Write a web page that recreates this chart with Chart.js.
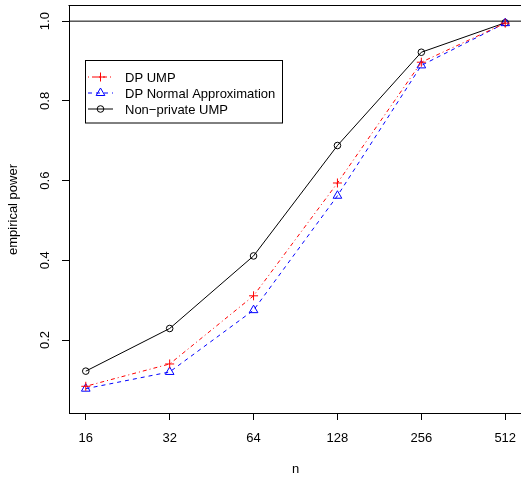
<!DOCTYPE html>
<html>
<head>
<meta charset="utf-8">
<script src="https://cdn.jsdelivr.net/npm/chart.js@4/dist/chart.umd.min.js"></script>
<style>
  html, body { margin: 0; padding: 0; background: #fff; overflow: hidden; }
  canvas { display: block; }
</style>
</head>
<body>
<canvas id="chart" width="528" height="477"></canvas>
<script>
// sample sizes (log2 axis) and empirical power per method
const sampleSizes = [16, 32, 64, 128, 256, 512];
const dpUmp = [0.084, 0.140, 0.311, 0.594, 0.897, 0.995];
const dpNormal = [0.078, 0.120, 0.275, 0.562, 0.889, 0.995];
const nonPrivate = [0.122, 0.229, 0.411, 0.688, 0.922, 0.996];

const xTicks = [16, 32, 64, 128, 256, 512];
const xTickLabels = ["16", "32", "64", "128", "256", "512"];
const yTicks = [0.2, 0.4, 0.6, 0.8, 1.0];
const yTickLabels = ["0.2", "0.4", "0.6", "0.8", "1.0"];
const refLine = 1.0;

const FONT = "13px 'Liberation Sans', Arial, Helvetica, sans-serif";

const series = [
  { label: "DP UMP", data: dpUmp, color: "#ff0000", dash: [1, 3, 4, 3], point: "cross", radius: 4.5 },
  { label: "DP Normal Approximation", data: dpNormal, color: "#0000ff", dash: [4, 4], point: "triangle", radius: 5 },
  { label: "Non\u2212private UMP", data: nonPrivate, color: "#000000", dash: [], point: "circle", radius: 3.3 },
];

const rPlot = {
  id: "rPlot",
  beforeDatasetsDraw(chart) {
    const { ctx, chartArea: a, scales: { y } } = chart;
    ctx.save();
    ctx.strokeStyle = "#000";
    ctx.lineWidth = 1;
    // top of the box (right side runs off the page)
    ctx.beginPath();
    ctx.moveTo(a.left - 0.5, a.top - 0.5);
    ctx.lineTo(a.right, a.top - 0.5);
    ctx.stroke();
    // abline at 1.0
    const yy = y.getPixelForValue(refLine);
    ctx.beginPath();
    ctx.moveTo(a.left, yy);
    ctx.lineTo(a.right, yy);
    ctx.stroke();
    ctx.restore();
  },
  afterDraw(chart) {
    const { ctx, chartArea: a, scales: { x, y } } = chart;
    ctx.save();
    ctx.fillStyle = "#000";
    ctx.font = FONT;
    ctx.textAlign = "center";
    ctx.textBaseline = "alphabetic";
    xTicks.forEach((v, i) => {
      ctx.fillText(xTickLabels[i], x.getPixelForValue(v), 442);
    });
    ctx.fillText("n", (a.left + a.right) / 2, 473);
    yTicks.forEach((v, i) => {
      ctx.save();
      ctx.translate(49, y.getPixelForValue(v));
      ctx.rotate(-Math.PI / 2);
      ctx.fillText(yTickLabels[i], 0, 0);
      ctx.restore();
    });
    ctx.save();
    ctx.translate(17, (a.top + a.bottom) / 2);
    ctx.rotate(-Math.PI / 2);
    ctx.fillText("empirical power", 0, 0);
    ctx.restore();

    // legend
    const lx = 85.5, ly = 60.5, lw = 197, lh = 62.5;
    ctx.fillStyle = "#fff";
    ctx.fillRect(lx, ly, lw, lh);
    ctx.strokeStyle = "#000";
    ctx.lineWidth = 1;
    ctx.strokeRect(lx, ly, lw, lh);
    ctx.textAlign = "left";
    series.forEach((s, i) => {
      const cy = 77 + i * 16;
      ctx.save();
      ctx.strokeStyle = s.color;
      ctx.fillStyle = "rgba(0,0,0,0)";
      ctx.lineWidth = 1;
      ctx.setLineDash(s.dash);
      ctx.beginPath();
      ctx.moveTo(88, cy);
      ctx.lineTo(113, cy);
      ctx.stroke();
      ctx.setLineDash([]);
      Chart.helpers.drawPoint(ctx, { pointStyle: s.point, radius: s.radius, borderWidth: 1, rotation: 0 }, 100.5, cy);
      ctx.restore();
      ctx.fillStyle = "#000";
      ctx.fillText(s.label, 125, cy + 5);
    });
    ctx.restore();
  }
};

new Chart(document.getElementById("chart"), {
  type: "line",
  data: {
    datasets: series.map(s => ({
      label: s.label,
      data: sampleSizes.map((n, i) => ({ x: n, y: s.data[i] })),
      borderColor: s.color,
      borderWidth: 1,
      borderDash: s.dash,
      backgroundColor: "rgba(0,0,0,0)",
      pointStyle: s.point,
      pointRadius: s.radius,
      pointBorderColor: s.color,
      pointBackgroundColor: "rgba(0,0,0,0)",
      pointBorderWidth: 1,
      tension: 0,
      fill: false,
    })),
  },
  options: {
    responsive: false,
    animation: false,
    devicePixelRatio: 1,
    layout: { padding: { left: 0, top: 6, right: 4, bottom: 0 } },
    plugins: { legend: { display: false }, tooltip: { enabled: false } },
    scales: {
      x: {
        type: "logarithmic",
        min: Math.pow(2, 3.8),
        max: Math.pow(2, 9.2),
        afterBuildTicks: s => { s.ticks = xTicks.map(v => ({ value: v })); },
        afterFit: s => { s.height = 64; },
        ticks: { display: false },
        grid: { display: true, drawOnChartArea: false, drawTicks: true, tickLength: 7, color: "#000" },
        border: { display: true, color: "#000", width: 1 },
      },
      y: {
        type: "linear",
        min: 0.017,
        max: 1.038,
        afterBuildTicks: s => { s.ticks = yTicks.map(v => ({ value: v })); },
        afterFit: s => { s.width = 69; },
        ticks: { display: false },
        grid: { display: true, drawOnChartArea: false, drawTicks: true, tickLength: 7, color: "#000" },
        border: { display: true, color: "#000", width: 1 },
      },
    },
  },
  plugins: [rPlot],
});
</script>
</body>
</html>
